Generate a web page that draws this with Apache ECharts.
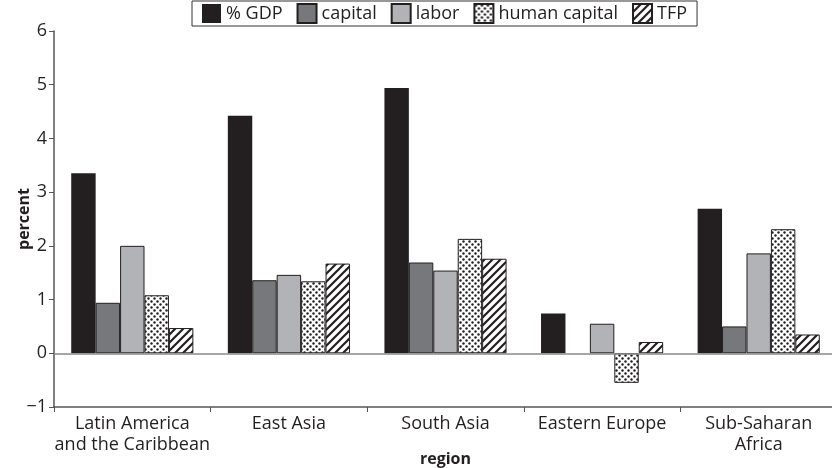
<!DOCTYPE html>
<html>
<head>
<meta charset="utf-8">
<script src="https://cdn.jsdelivr.net/npm/echarts@6/dist/echarts.min.js"></script>
<style>
  html, body { margin: 0; padding: 0; background: #fff; }
  #chart { width: 832px; height: 468px; }
</style>
</head>
<body>
<div id="chart"></div>
<script>
// ---- data ----
const categories = ['Latin America\nand the Caribbean', 'East Asia', 'South Asia', 'Eastern Europe', 'Sub-Saharan\nAfrica'];
const seriesNames = ['% GDP', 'capital', 'labor', 'human capital', 'TFP'];
const gdp = [3.35, 4.42, 4.94, 0.74, 2.69];
const capital = [0.94, 1.36, 1.69, null, 0.50];
const labor = [2.00, 1.46, 1.54, 0.55, 1.86];
const humanCapital = [1.08, 1.34, 2.13, -0.55, 2.31];
const tfp = [0.47, 1.67, 1.76, 0.21, 0.35];
const yTicks = { min: -1, max: 6, interval: 1 };

// ---- patterns ----
function dotPattern() {
  const c = document.createElement('canvas');
  c.width = 6; c.height = 6;
  const g = c.getContext('2d');
  g.fillStyle = '#fff'; g.fillRect(0, 0, 6, 6);
  g.fillStyle = '#231f20';
  g.beginPath(); g.arc(1.5, 1.5, 1.2, 0, Math.PI * 2); g.fill();
  g.beginPath(); g.arc(4.5, 4.5, 1.2, 0, Math.PI * 2); g.fill();
  return { image: c, repeat: 'repeat' };
}
function stripePattern() {
  const s = 8;
  const c = document.createElement('canvas');
  c.width = s; c.height = s;
  const g = c.getContext('2d');
  g.fillStyle = '#fff'; g.fillRect(0, 0, s, s);
  g.strokeStyle = '#231f20'; g.lineWidth = 2.2;
  g.beginPath();
  g.moveTo(-2, s + 2); g.lineTo(s + 2, -2);
  g.moveTo(-2, 2); g.lineTo(2, -2);
  g.moveTo(s - 2, s + 2); g.lineTo(s + 2, s - 2);
  g.stroke();
  return { image: c, repeat: 'repeat' };
}

const FONT = '"Open Sans", "Noto Sans", sans-serif';
const ink = '#231f20';
const fills = [ink, '#77787b', '#b1b3b6', dotPattern(), stripePattern()];
const dataSets = [gdp, capital, labor, humanCapital, tfp];

const series = seriesNames.map((name, i) => {
  const s = {
    name: name,
    type: 'bar',
    data: dataSets[i],
    barGap: '0%',
    barCategoryGap: '22%',
    itemStyle: { color: fills[i], borderColor: ink, borderWidth: i === 0 ? 0 : 1 },
    emphasis: { disabled: true },
    animation: false
  };
  if (i === 0) {
    s.markLine = {
      silent: true,
      symbol: 'none',
      label: { show: false },
      lineStyle: { color: '#888', width: 1.5, type: 'solid' },
      data: [{ yAxis: 0 }],
      animation: false
    };
  }
  return s;
});

const chart = echarts.init(document.getElementById('chart'), null, { renderer: 'canvas' });
chart.setOption({
  animation: false,
  textStyle: { fontFamily: FONT },
  legend: {
    left: 192, top: 1,
    padding: [2, 10, 2, 10],
    itemWidth: 19, itemHeight: 19, itemGap: 14,
    borderColor: '#333', borderWidth: 1,
    textStyle: { fontFamily: FONT, fontSize: 18, color: ink },
    data: seriesNames.map((n) => ({ name: n, icon: 'rect' }))
  },
  grid: { left: 54, right: -5, top: 31, bottom: 61, containLabel: false, outerBoundsMode: 'none' },
  xAxis: {
    type: 'category',
    data: categories,
    name: 'region',
    nameLocation: 'middle',
    nameGap: 44,
    nameMoveOverlap: false,
    nameTextStyle: { fontFamily: FONT, fontSize: 16, fontWeight: 'bold', color: ink },
    axisLine: { onZero: false, lineStyle: { color: '#555', width: 1.5 } },
    axisTick: { show: true, alignWithLabel: false, interval: 0, length: 5, lineStyle: { color: '#555' } },
    axisLabel: { interval: 0, fontFamily: FONT, fontSize: 18, color: ink, lineHeight: 21, margin: 6 }
  },
  yAxis: {
    type: 'value',
    min: yTicks.min, max: yTicks.max, interval: yTicks.interval,
    name: 'percent',
    nameLocation: 'middle',
    nameGap: 22,
    nameMoveOverlap: false,
    nameTextStyle: { fontFamily: FONT, fontSize: 16, fontWeight: 'bold', color: ink },
    splitLine: { show: false },
    axisLine: { show: true, lineStyle: { color: '#555', width: 1.5 } },
    axisTick: { show: true, length: 5, lineStyle: { color: '#555' } },
    axisLabel: {
      fontFamily: FONT, fontSize: 18, color: ink, margin: 7,
      formatter: v => String(v).replace('-', '\u2212')
    }
  },
  series: series
});
</script>
</body>
</html>
